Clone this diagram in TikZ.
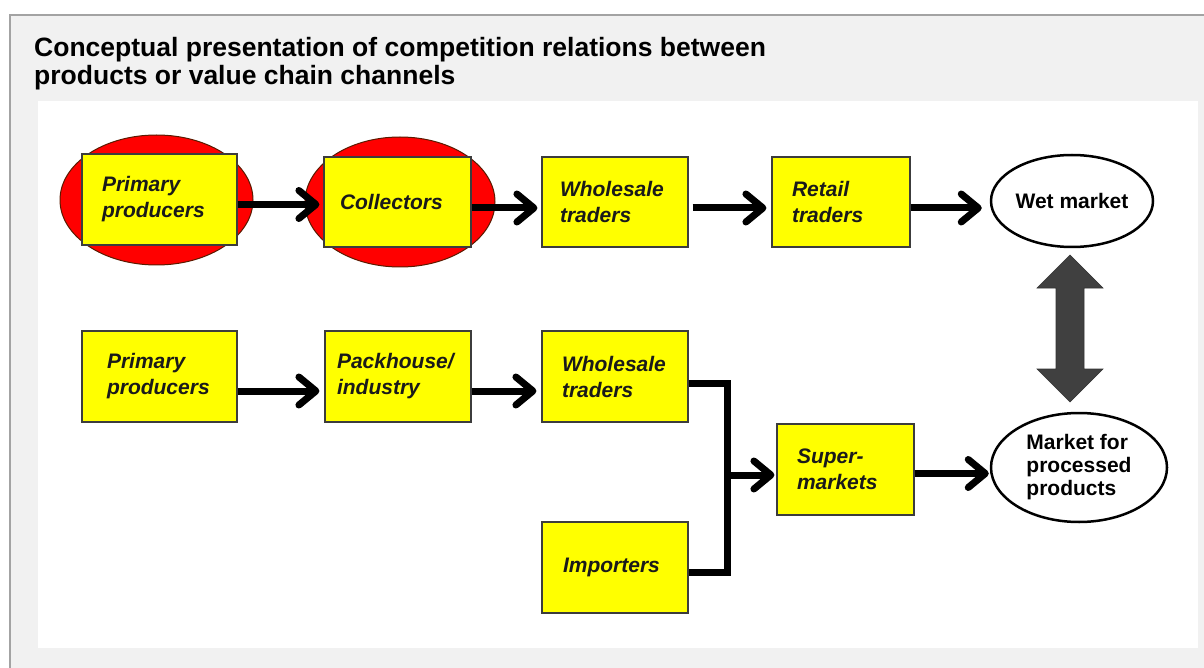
\documentclass[tikz,border=0pt]{standalone}
\usepackage{fontspec}
\setmainfont{Liberation Sans}
\usetikzlibrary{arrows.meta,shapes.geometric}
\definecolor{panelgray}{HTML}{F1F1F1}
\definecolor{bordergray}{HTML}{A3A3A3}
\definecolor{boxedge}{HTML}{3C3C3C}
\definecolor{boxyellow}{HTML}{FFFF00}
\definecolor{ellred}{HTML}{FF0000}
\definecolor{elledge}{HTML}{5A1A00}
\definecolor{txtdark}{HTML}{1A1A1A}
\definecolor{dblgray}{HTML}{404040}
\tikzset{
  box/.style={draw=boxedge, fill=boxyellow, line width=1.2pt, inner ysep=0pt,
    font=\fontsize{21}{26}\selectfont\bfseries\itshape, text=txtdark, align=left},
  redell/.style={ellipse, draw=elledge, fill=ellred, line width=1pt, inner sep=0pt},
  market/.style={ellipse, draw=black, fill=white, line width=2.5pt, inner sep=0pt,
    font=\fontsize{21}{23}\selectfont\bfseries, align=left},
  conn/.style={line width=7pt, draw=black, line join=miter},
  arr/.style={line width=7pt, draw=black, -{Straight Barb[length=17pt,width=28pt,round]}}
}
\begin{document}
\begin{tikzpicture}[x=1pt,y=-1pt]
\useasboundingbox (0,0) rectangle (1204,668);
\fill[white] (0,0) rectangle (1204,668);
\fill[panelgray] (10,15) rectangle (1204,668);
\draw[bordergray, line width=2pt] (10,668) -- (10,15) -- (1204,15);
\fill[white] (38,101) rectangle (1198,648);

\node[anchor=north west, inner sep=0pt, align=left,
      font=\fontsize{26.5}{27.5}\selectfont\bfseries] (title) at (34,37.5)
  {Conceptual presentation of competition relations between\\products or value chain channels};

% top row
\node[redell, minimum width=193pt, minimum height=130pt] (ell1) at (156.5,200) {};
\node[box, minimum height=91pt, text width=115pt, inner xsep=20pt] (pp1) at (159.5,199.5) {Primary\\producers};
\node[redell, minimum width=190pt, minimum height=130pt] (ell2) at (400,202) {};
\node[box, minimum height=90pt, text width=115pt, inner xsep=16pt] (col) at (397.5,202) {Collectors};
\node[box, minimum height=90pt, text width=110pt, inner xsep=18pt] (ws1) at (615,202) {Wholesale\\traders};
\node[box, minimum height=90pt, text width=98pt, inner xsep=20pt] (rt) at (841,202) {Retail\\traders};
\node[market, minimum width=162pt, minimum height=92pt, align=center] (wet) at (1072,201) {Wet market};

% second row
\node[box, minimum height=91pt, text width=105pt, inner xsep=25pt] (pp2) at (159.5,376.5) {Primary\\producers};
\node[box, minimum height=91pt, text width=122pt, inner xsep=12pt] (pk) at (398,376.5) {Packhouse/\\industry};
\node[box, minimum height=91pt, text width=106pt, inner xsep=20pt] (ws2) at (615,376.5) {Wholesale\\traders};
\node[box, minimum height=91pt, text width=104pt, inner xsep=21pt] (imp) at (615,567.5) {Importers};
\node[box, minimum height=91pt, text width=97pt, inner xsep=20pt] (sup) at (845.5,469.5) {Super-\\markets};
\node[market, minimum width=176pt, minimum height=109pt] (mkt) at (1079,467.5) {Market for\\processed\\products};

\coordinate (jn) at (727,475);

% arrows top row
\draw[arr, shorten >=4pt] ([yshift=-5pt]pp1.east) -- ([yshift=-5pt]pp1.east -| col.west);
\draw[arr, shorten >=4pt] ([yshift=-6pt]col.east) -- ([yshift=-6pt]col.east -| ws1.west);
\draw[arr, shorten <=4pt, shorten >=5pt] ([yshift=-6pt]ws1.east) -- ([yshift=-6pt]ws1.east -| rt.west);
\draw[arr, shorten >=8pt] ([yshift=-6pt]rt.east) -- ([yshift=-6pt]rt.east -| wet.west);

% arrows second row
\draw[arr, shorten >=5pt] ([yshift=-14.5pt]pp2.east) -- ([yshift=-14.5pt]pp2.east -| pk.west);
\draw[arr, shorten >=5pt] ([yshift=-14.5pt]pk.east) -- ([yshift=-14.5pt]pk.east -| ws2.west);
\draw[conn] ([yshift=-6.5pt]ws2.east) -| (jn) |- ([yshift=-4.5pt]imp.east);
\draw[arr, shorten >=2pt] (jn) -- (jn -| sup.west);
\draw[arr, shorten >=1pt] ([yshift=-4pt]sup.east) -- ([yshift=-4pt]sup.east -| mkt.west);

% competition double arrow
\filldraw[fill=dblgray, draw=black!80, line width=0.6pt]
  (1070,255) -- (1103,288) -- (1084,288) -- (1084,369) -- (1103,369) -- (1070,402)
  -- (1037,369) -- (1056,369) -- (1056,288) -- (1037,288) -- cycle;
\end{tikzpicture}
\end{document}
